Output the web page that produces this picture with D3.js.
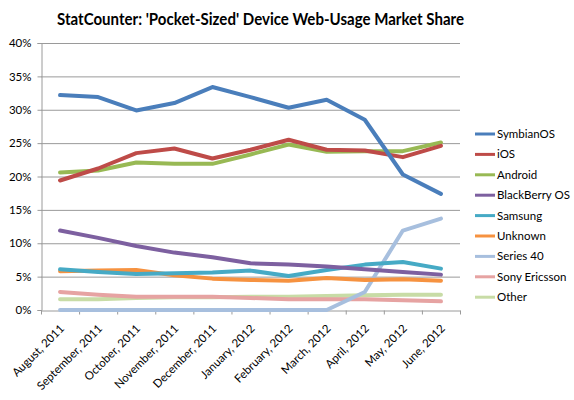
<!DOCTYPE html>
<html><head><meta charset="utf-8">
<script src="https://cdn.jsdelivr.net/npm/d3@7"></script>
<style>body{margin:0;background:#fff}svg{display:block}text{font-family:Lato,"Open Sans",sans-serif}</style>
</head><body><svg id="c" width="574" height="400"></svg>
<script>
const categories = ["August, 2011","September, 2011","October, 2011","November, 2011","December, 2011","January, 2012","February, 2012","March, 2012","April, 2012","May, 2012","June, 2012"];
const seriesNames = ["SymbianOS","iOS","Android","BlackBerry OS","Samsung","Unknown","Series 40","Sony Ericsson","Other"];
const symbianOS    = [32.2,31.9,29.9,31.0,33.4,31.9,30.3,31.5,28.5,20.3,17.4];
const iOS          = [19.4,21.2,23.5,24.2,22.7,24.0,25.5,24.0,23.9,22.9,24.6];
const android      = [20.6,20.9,22.1,21.9,21.9,23.3,24.8,23.7,23.8,23.8,25.1];
const blackBerry   = [11.9,10.8,9.6,8.6,7.9,7.0,6.8,6.5,6.1,5.7,5.3];
const samsung      = [6.1,5.7,5.4,5.5,5.6,5.9,5.1,6.0,6.8,7.2,6.2];
const unknown      = [5.8,5.9,6.0,5.2,4.7,4.5,4.4,4.8,4.5,4.6,4.4];
const series40     = [0,0,0,0,0,0,0,0,2.7,11.9,13.7];
const sonyEricsson = [2.7,2.3,2.0,2.0,2.0,1.8,1.6,1.6,1.6,1.45,1.3];
const other        = [1.6,1.6,1.8,1.9,1.9,2.0,2.0,2.1,2.2,2.3,2.3];
const yTicks = [0,5,10,15,20,25,30,35,40];
const colors = ["#4A7EBB","#BE4B48","#98B954","#7D60A0","#46AAC5","#F69240","#A7BFDE","#E6A3A2","#C8DCA6"];
const values = [symbianOS,iOS,android,blackBerry,samsung,unknown,series40,sonyEricsson,other];

const svg = d3.select("#c");
const L=41, R=460, T=43, B=310;
const x = d3.scaleBand().domain(categories).range([L,R]);
const y = d3.scaleLinear().domain([0,40]).range([B,T]);

svg.append("text").attr("x",260.5).attr("y",25).attr("text-anchor","middle")
  .attr("font-size",17).attr("font-weight","bold").attr("fill","#000")
  .attr("textLength",407).attr("lengthAdjust","spacingAndGlyphs")
  .text("StatCounter: 'Pocket-Sized' Device Web-Usage Market Share");

// grid
svg.append("g").selectAll("line").data(yTicks.filter(d=>d>0)).join("line")
  .attr("x1",L).attr("x2",R).attr("y1",d=>y(d)+0.5).attr("y2",d=>y(d)+0.5)
  .attr("stroke","#9a9a9a").attr("stroke-width",1);

// y axis
const ya = svg.append("g").attr("transform",`translate(${L+0.5},0)`)
  .call(d3.axisLeft(y).tickValues(yTicks).tickFormat(d=>d+"%").tickSize(4).tickPadding(6));
ya.select(".domain").attr("stroke","#9a9a9a");
ya.selectAll(".tick line").attr("stroke","#9a9a9a");
ya.selectAll("text").attr("font-size",11.5).attr("fill","#000").attr("font-family","Lato,sans-serif");

// x axis
const xa = svg.append("g").attr("transform",`translate(0,${B+0.5})`)
  .call(d3.axisBottom(x).tickSize(0).tickFormat(""));
xa.select(".domain").attr("stroke","#9a9a9a");
const bounds = [...categories.map(c=>x(c)), R];
xa.selectAll(".bt").data(bounds).join("line").attr("class","bt")
  .attr("x1",d=>d+0.5).attr("x2",d=>d+0.5).attr("y1",0).attr("y2",4).attr("stroke","#9a9a9a");
xa.selectAll(".xl").data(categories).join("text").attr("class","xl")
  .attr("transform",d=>`translate(${x(d)+x.bandwidth()/2+2},${16}) rotate(-45)`)
  .attr("text-anchor","end").attr("dy","0.35em").attr("font-size",11.5).attr("fill","#000")
  .text(d=>d);

// lines
const line = d3.line().x((d,i)=>x(categories[i])+x.bandwidth()/2).y(d=>y(d));
const order = [8,7,6,5,4,3,2,1,0];
svg.append("g").selectAll("path").data(order).join("path")
  .attr("d",i=>line(values[i])).attr("fill","none").attr("stroke",i=>colors[i])
  .attr("stroke-width",4).attr("stroke-linejoin","round").attr("stroke-linecap","round");

// legend
const lg = svg.append("g");
seriesNames.forEach((n,i)=>{
  const yy = 134 + i*20.4;
  lg.append("line").attr("x1",475).attr("x2",495).attr("y1",yy).attr("y2",yy)
    .attr("stroke",colors[i]).attr("stroke-width",3);
  lg.append("text").attr("x",497).attr("y",yy).attr("dy","0.35em")
    .attr("font-size",11.5).attr("fill","#000").text(n);
});
</script></body></html>
